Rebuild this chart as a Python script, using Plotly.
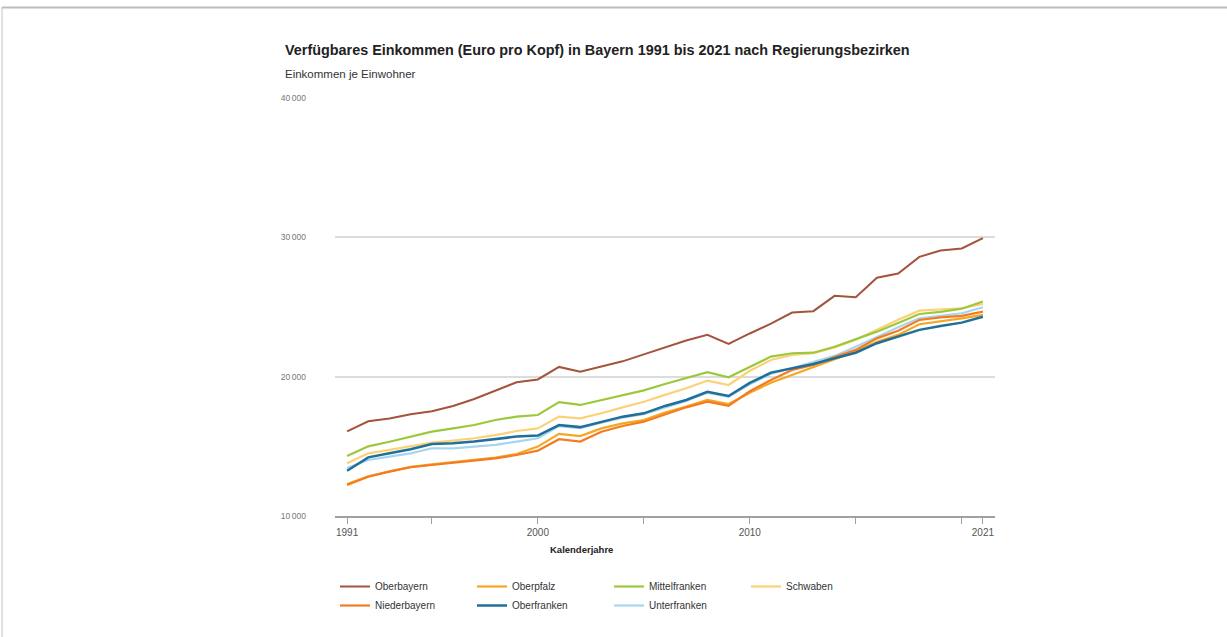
import plotly.graph_objects as go

years = list(range(1991, 2022))

oberbayern = [16080, 16800, 17000, 17300, 17520, 17900, 18400, 19000, 19600, 19800,
              20700, 20350, 20700, 21100, 21600, 22100, 22600, 23000, 22350, 23100,
              23800, 24600, 24700, 25800, 25700, 27100, 27400, 28600, 29050, 29200, 29950]
mittelfranken = [14300, 15000, 15330, 15690, 16050, 16290, 16530, 16890, 17130, 17250,
                 18170, 17970, 18330, 18650, 19020, 19470, 19920, 20330, 19960, 20700,
                 21440, 21680, 21720, 22150, 22680, 23230, 23850, 24500, 24650, 24880, 25390]
schwaben = [13780, 14500, 14740, 14980, 15270, 15410, 15580, 15810, 16100, 16290,
            17130, 17010, 17370, 17800, 18200, 18690, 19170, 19710, 19400, 20420,
            21200, 21560, 21680, 22100, 22650, 23360, 24080, 24740, 24840, 24910, 25220]
oberfranken = [13250, 14210, 14500, 14790, 15170, 15220, 15340, 15510, 15700, 15770,
               16530, 16380, 16770, 17130, 17370, 17900, 18330, 18920, 18610, 19550,
               20290, 20600, 20910, 21320, 21720, 22400, 22870, 23360, 23640, 23880, 24300]
unterfranken = [13450, 14020, 14260, 14500, 14860, 14860, 14980, 15100, 15340, 15580,
                16450, 16300, 16700, 17050, 17300, 17800, 18250, 18850, 18550, 19450,
                20200, 20620, 21080, 21490, 22150, 22870, 23550, 24190, 24360, 24550, 24980]
oberpfalz = [12300, 12850, 13200, 13520, 13700, 13870, 14020, 14200, 14450, 14980,
             15890, 15740, 16290, 16650, 16890, 17420, 17850, 18330, 18040, 18850,
             19570, 20120, 20680, 21250, 21800, 22510, 23000, 23760, 23950, 24190, 24430]
niederbayern = [12230, 12820, 13180, 13500, 13660, 13830, 13970, 14140, 14380, 14690,
                15510, 15340, 16050, 16460, 16770, 17300, 17800, 18200, 17900, 18950,
                19760, 20480, 20840, 21400, 21920, 22750, 23300, 24070, 24260, 24360, 24670]

# legend order (4 per row)
series = [
    ("Oberbayern", oberbayern, "#a4533d", 2),
    ("Oberpfalz", oberpfalz, "#f5a623", 2.2),
    ("Mittelfranken", mittelfranken, "#9cc83c", 2.2),
    ("Schwaben", schwaben, "#fbd27a", 2.2),
    ("Niederbayern", niederbayern, "#f47c20", 2.2),
    ("Oberfranken", oberfranken, "#1f6f98", 2.5),
    ("Unterfranken", unterfranken, "#a8d5ee", 2.2),
]

# drawing order: light lines first, strong lines on top
draw_order = ["Unterfranken", "Schwaben", "Oberpfalz", "Niederbayern",
              "Oberfranken", "Mittelfranken", "Oberbayern"]

y_tickvals = [10000, 20000, 30000, 40000]
y_ticktext = ["10\u2009000", "20\u2009000", "30\u2009000", "40\u2009000"]
x_tickvals = [1991, 1995, 2000, 2005, 2010, 2015, 2020, 2021]
x_ticktext = ["1991", "", "2000", "", "2010", "", "", "2021"]

fig = go.Figure()

# legend-only traces in legend order
for name, vals, color, w in series:
    fig.add_trace(go.Scatter(x=[None], y=[None], mode="lines", name=name,
                             line=dict(color=color, width=w), showlegend=True,
                             hoverinfo="skip"))

lookup = {s[0]: s for s in series}
for name in draw_order:
    _, vals, color, w = lookup[name]
    fig.add_trace(go.Scatter(x=years, y=vals, mode="lines", name=name,
                             line=dict(color=color, width=w), showlegend=False))

L, R, T, B = 335, 995, 98, 516
W, H = 1227, 637


def px(x):
    return (x - L) / (R - L)


def py(y):
    return (B - y) / (B - T)


fig.update_layout(
    width=W, height=H,
    margin=dict(l=L, r=W - R, t=T, b=H - B),
    paper_bgcolor="white", plot_bgcolor="white",
    font=dict(family="Arial", color="#333333"),
    showlegend=True,
    legend=dict(orientation="h", x=0, xanchor="left", y=py(572), yanchor="top",
                entrywidth=92, entrywidthmode="pixels",
                font=dict(size=10, color="#333333"), tracegroupgap=0),
    xaxis=dict(range=[1990.43, 2021.57], tickvals=x_tickvals, ticktext=x_ticktext,
               showgrid=False, zeroline=False, showline=True, linecolor="#a0a0a0",
               linewidth=1.5, ticks="outside", ticklen=6, tickcolor="#a0a0a0",
               tickfont=dict(size=10, color="#555555")),
    yaxis=dict(range=[10000, 40000], tickvals=y_tickvals, ticktext=y_ticktext,
               showgrid=True, gridcolor="#dcdcdc", gridwidth=2, zeroline=False,
               showline=False, ticks="", ticklabelstandoff=28,
               tickfont=dict(size=8.5, color="#777777")),
    annotations=[
        dict(text="<b>Verfügbares Einkommen (Euro pro Kopf) in Bayern 1991 bis 2021 nach Regierungsbezirken</b>",
             xref="paper", yref="paper", x=px(283), y=py(50), xanchor="left", yanchor="middle",
             showarrow=False, font=dict(size=14.4, color="#222222")),
        dict(text="Einkommen je Einwohner", xref="paper", yref="paper", x=px(283), y=py(74),
             xanchor="left", yanchor="middle", showarrow=False,
             font=dict(size=11.5, color="#333333")),
        dict(text="<b>Kalenderjahre</b>", xref="paper", yref="paper", x=px(581), y=py(549),
             xanchor="center", yanchor="middle", showarrow=False,
             font=dict(size=9.5, color="#222222")),
    ],
    shapes=[
        dict(type="line", xref="paper", yref="paper", x0=px(2), x1=px(1227), y0=py(7.5), y1=py(7.5),
             line=dict(color="#bcbcbc", width=2)),
        dict(type="line", xref="paper", yref="paper", x0=px(2), x1=px(2), y0=py(7), y1=py(637),
             line=dict(color="#c4c4c4", width=1)),
    ],
)

fig.write_html("out.html", config={"displayModeBar": False},
               post_script="document.body.style.margin='0';")
